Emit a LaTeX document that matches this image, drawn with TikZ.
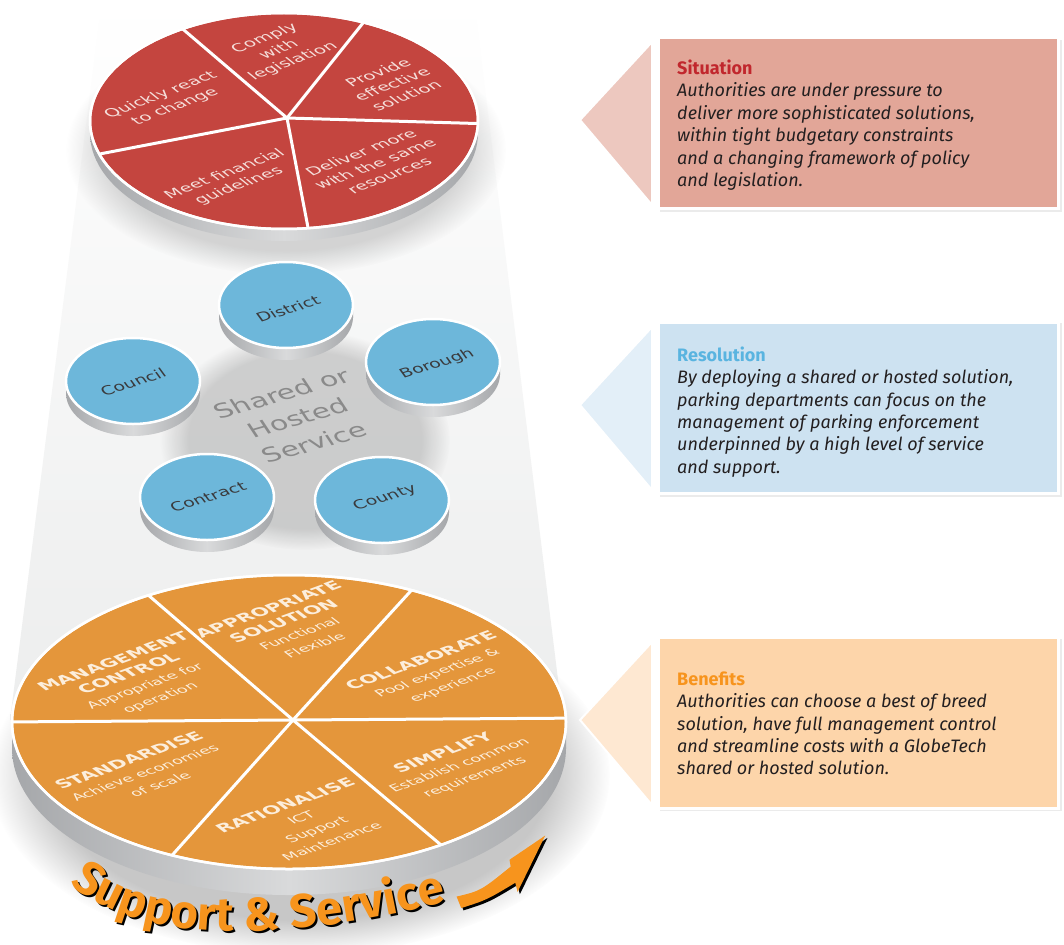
\documentclass[tikz,border=0pt]{standalone}
\usepackage{fontspec}
\setmainfont{DejaVu Sans}
\newfontfamily\fira{Fira Sans}
\newfontfamily\dv{DejaVu Sans}
\usetikzlibrary{decorations.text,fadings,shadings}
\definecolor{colgrey}{HTML}{ECEDED}
\definecolor{redpie}{HTML}{C4453F}
\definecolor{redtxt}{HTML}{F5DEDA}
\definecolor{bluedisc}{HTML}{6DB7DA}
\definecolor{disctxt}{HTML}{3A3A3C}
\definecolor{orpie}{HTML}{E4963B}
\definecolor{ortxt}{HTML}{FCEEDC}
\definecolor{sideD}{HTML}{A5A7AA}
\definecolor{sideL}{HTML}{D9DADB}
\definecolor{sitFill}{HTML}{E2A698}
\definecolor{sitTri}{HTML}{EDC8BF}
\definecolor{resFill}{HTML}{CDE2F1}
\definecolor{resTri}{HTML}{E3EFF8}
\definecolor{benFill}{HTML}{FDD5AA}
\definecolor{benTri}{HTML}{FEE8D2}
\definecolor{sitRed}{HTML}{C1272D}
\definecolor{resBlue}{HTML}{59B4E0}
\definecolor{benOr}{HTML}{F7941D}
\definecolor{bodytxt}{HTML}{231F20}
\definecolor{shtxt}{HTML}{8A8A8A}
\newcommand\pdisc[6]{%
  \shade[left color=sideD, right color=sideD, middle color=sideL] (#1-#3,#2) rectangle (#1+#3,#2+#5);
  \shade[left color=sideD, right color=sideD, middle color=sideL] (#1,#2+#5) ellipse [x radius=#3pt, y radius=#4pt];
  \fill[#6, draw=white, line width=2.5pt] (#1,#2) ellipse [x radius=#3pt, y radius=#4pt];
}
\newcommand\ptxt[7]{%
  \node[#6, shift={(#2,#3)}, yscale=#4, rotate=#5, align=center, inner sep=0pt] (#1) at (0,0) {#7};
}
\newcommand\TT[1]{{\fontsize{22}{27}\selectfont\bfseries #1}}
\tikzset{
  redlab/.style={font=\dv\fontsize{20}{25}\selectfont, text=redtxt},
  disclab/.style={font=\dv\fontsize{19}{24}\selectfont, text=disctxt},
  orlab/.style={font=\dv\fontsize{18}{27}\selectfont, text=ortxt},
  boxtxt/.style={anchor=north west, align=left, inner sep=0pt, text=bodytxt,
     font=\fira\fontsize{18}{22.4}\selectfont\itshape},
  infobox/.style={draw=white, line width=3pt, anchor=north west, inner sep=0pt},
  pointer/.style={draw=white, line width=2pt},
  divline/.style={white, line width=3pt},
  softshadow/.style={fill=black, path fading=circle with fuzzy edge 20 percent}
}
\begin{document}
\begin{tikzpicture}[x=1pt,y=-1pt]
\useasboundingbox (0,0) rectangle (1064,944);
\fill[white] (0,0) rectangle (1064,944);
% column
\shade[top color=white, bottom color=colgrey] (102,0) -- (474,0) -- (563,720) -- (10,720) -- cycle;
% soft shadows
\fill[softshadow, opacity=0.15] (286,150) ellipse [x radius=220pt, y radius=125pt];
\fill[softshadow, opacity=0.16] (305,440) ellipse [x radius=145pt, y radius=110pt];
\fill[softshadow, opacity=0.22] (300,775) ellipse [x radius=310pt, y radius=180pt];

% ===== top red pie
\pdisc{284}{121}{194}{108}{12}{redpie}
\begin{scope}
  \clip (284,121) ellipse [x radius=194pt, y radius=108pt];
  \draw[divline] (287,118) -- (171,19);
  \draw[divline] (287,118) -- (371,13);
  \draw[divline] (287,118) -- (494,124);
  \draw[divline] (287,118) -- (310,238);
  \draw[divline] (287,118) -- (84,157);
\end{scope}
\draw[white, line width=2.5pt] (284,121) ellipse [x radius=194pt, y radius=108pt];
\ptxt{comply}{279}{50}{0.557}{34.6}{redlab}{Comply\\with\\legislation}
\ptxt{provide}{392}{84}{0.557}{34.6}{redlab}{Provide\\effective\\solution}
\ptxt{quickly}{168}{101}{0.557}{34.6}{redlab}{Quickly react\\to change}
\ptxt{meet}{232}{180}{0.557}{34.6}{redlab}{Meet financial\\guidelines}
\ptxt{deliver}{375}{164}{0.557}{34.6}{redlab}{Deliver more\\with the same\\resources}

% ===== middle
\ptxt{shared}{298}{418}{0.657}{23.5}{font=\dv\fontsize{30}{41}\selectfont, text=shtxt}{Shared or\\Hosted\\Service}
\pdisc{286}{305}{67}{43}{12}{bluedisc}
\pdisc{433}{362}{67}{43}{12}{bluedisc}
\pdisc{133}{381}{67}{43}{12}{bluedisc}
\pdisc{207}{497}{67}{43}{12}{bluedisc}
\pdisc{382}{500}{67}{43}{12}{bluedisc}
\ptxt{district}{288}{309}{0.657}{25.6}{disclab}{District}
\ptxt{borough}{437}{364}{0.657}{25.6}{disclab}{Borough}
\ptxt{council}{133}{382}{0.657}{25.6}{disclab}{Council}
\ptxt{contract}{208}{497}{0.657}{25.6}{disclab}{Contract}
\ptxt{county}{385}{498}{0.657}{25.6}{disclab}{County}

% ===== bottom orange pie
\pdisc{289}{722}{277}{147}{26}{orpie}
\begin{scope}
  \clip (289,722) ellipse [x radius=277pt, y radius=147pt];
  \draw[divline] (293,720) -- (0,722);
  \draw[divline] (293,720) -- (125,575);
  \draw[divline] (293,720) -- (429,571);
  \draw[divline] (293,720) -- (590,718);
  \draw[divline] (293,720) -- (460,861);
  \draw[divline] (293,720) -- (158,871);
\end{scope}
\draw[white, line width=2.5pt] (289,722) ellipse [x radius=277pt, y radius=147pt];
\ptxt{mgmt}{137}{680}{0.53}{34.5}{orlab}{\TT{MANAGEMENT}\\\TT{CONTROL}\\Appropriate for\\operation}
\ptxt{approp}{291}{627}{0.53}{34.5}{orlab}{\TT{APPROPRIATE}\\\TT{SOLUTION}\\Functional\\Flexible}
\ptxt{collab}{437}{673}{0.53}{34.5}{orlab}{\TT{COLLABORATE}\\Pool expertise \&\\experience}
\ptxt{stand}{144}{772}{0.53}{34.5}{orlab}{\TT{STANDARDISE}\\Achieve economies\\of scale}
\ptxt{simpl}{459}{765}{0.53}{34.5}{orlab}{\TT{SIMPLIFY}\\Establish common\\requirements}
\ptxt{ration}{308}{823}{0.53}{34.5}{orlab}{\TT{RATIONALISE}\\ICT\\Support\\Maintenance}

% ===== Support & Service
\path[xshift=2pt, yshift=-2pt, decorate, decoration={text along path, text align=center,
  text={|\fira\fontsize{47}{47}\selectfont\bfseries\color{black}|Support {\&} Service}}]
  (70,884) .. controls (130,935) and (250,950) .. (446,902);
\path[decorate, decoration={text along path, text align=center,
  text={|\fira\fontsize{47}{47}\selectfont\bfseries\color{benOr}|Support {\&} Service}}]
  (70,884) .. controls (130,935) and (250,950) .. (446,902);
\begin{scope}[shift={(452,900)}, scale=1.15, shift={(-452,-900)}]
\fill[black, xshift=2pt, yshift=-2pt] (456,897) .. controls (477,892) .. (503,871) -- (502,865) -- (533,844) -- (509,893) -- (507,885) .. controls (482,900) .. (460,907) -- cycle;
\fill[benOr] (456,897) .. controls (477,892) .. (503,871) -- (502,865) -- (533,844) -- (509,893) -- (507,885) .. controls (482,900) .. (460,907) -- cycle;
\end{scope}

% ===== info boxes
\fill[black!8] (660,40) rectangle (1062,212);
\fill[sitTri, pointer] (652,42) -- (580,120) -- (652,205) -- cycle;
\node[infobox, fill=sitFill, minimum width=400pt, minimum height=170pt] (sitbox) at (656.5,36.5) {};
\node[boxtxt] (sittxt) at (677,59.8) {{\upshape\bfseries\color{sitRed}Situation}\\Authorities are under pressure to\\deliver more sophisticated solutions,\\within tight budgetary constraints\\and a changing framework of policy\\and legislation.};

\fill[black!8] (660,323) rectangle (1062,497);
\fill[resTri, pointer] (652,327) -- (580,405) -- (652,490) -- cycle;
\node[infobox, fill=resFill, minimum width=400pt, minimum height=171pt] (resbox) at (656.5,321) {};
\node[boxtxt] (restxt) at (677,346.5) {{\upshape\bfseries\color{resBlue}Resolution}\\By deploying a shared or hosted solution,\\parking departments can focus on the\\management of parking enforcement\\underpinned by a high level of service\\and support.};

\fill[black!8] (660,639) rectangle (1062,811);
\fill[benTri, pointer] (652,642) -- (580,720) -- (652,805) -- cycle;
\node[infobox, fill=benFill, minimum width=400pt, minimum height=171pt] (benbox) at (656.5,636) {};
\node[boxtxt] (bentxt) at (677,671.5) {{\upshape\bfseries\color{benOr}Benefits}\\Authorities can choose a best of breed\\solution, have full management control\\and streamline costs with a GlobeTech\\shared or hosted solution.};
\end{tikzpicture}
\end{document}
